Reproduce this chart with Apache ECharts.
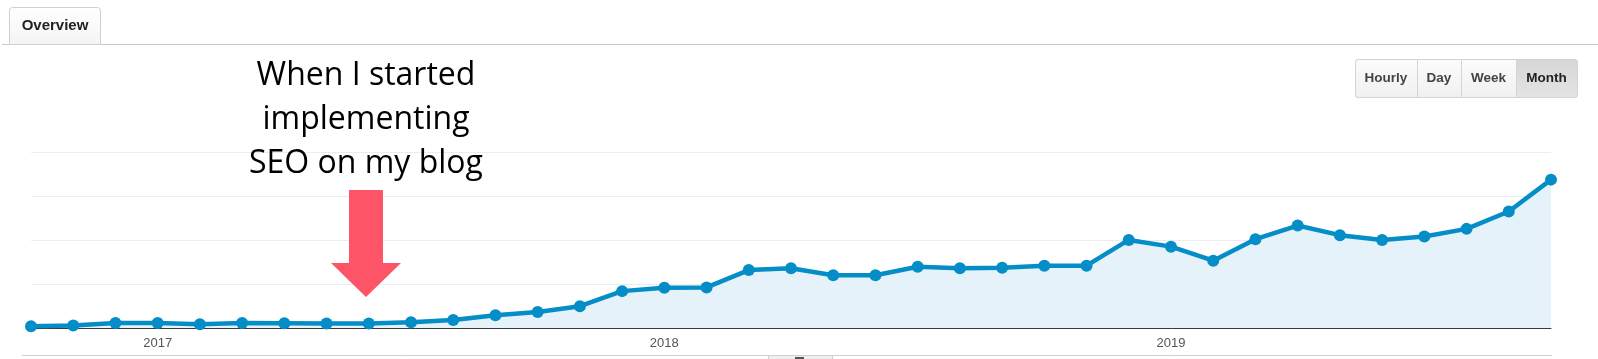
<!DOCTYPE html>
<html>
<head>
<meta charset="utf-8">
<script src="https://cdn.jsdelivr.net/npm/echarts@6/dist/echarts.min.js"></script>
<style>
html,body{margin:0;padding:0;background:#fff;}
#chart{width:1598px;height:359px;}
</style>
</head>
<body>
<div id="chart"></div>
<script>
// Months (category axis), Oct 2016 .. Oct 2019
const months = [
  '2016-10','2016-11','2016-12',
  '2017-01','2017-02','2017-03','2017-04','2017-05','2017-06','2017-07','2017-08','2017-09','2017-10','2017-11','2017-12',
  '2018-01','2018-02','2018-03','2018-04','2018-05','2018-06','2018-07','2018-08','2018-09','2018-10','2018-11','2018-12',
  '2019-01','2019-02','2019-03','2019-04','2019-05','2019-06','2019-07','2019-08','2019-09','2019-10'
];
// Sessions per month (axis units are gridline steps of 1000)
const sessions = [
  39, 55, 114,
  114, 84, 114, 107, 100, 100, 130, 183, 290, 365, 495, 838,
  913, 922, 1317, 1356, 1198, 1198, 1393, 1356, 1370, 1416, 1416, 2002,
  1849, 1530, 2018, 2329, 2110, 2002, 2078, 2253, 2648, 3372
];
// Tick labels shown on the x axis (January of each year)
const tickLabels = ['2017', '2018', '2019'];
const yTicks = [0, 1000, 2000, 3000, 4000];
const buttons = ['Hourly', 'Day', 'Week', 'Month'];
const annotationLines = ['When I started', 'implementing', 'SEO on my blog'];

const chart = echarts.init(document.getElementById('chart'), null, {renderer: 'canvas'});

const btnEdges = [1355, 1417, 1461, 1516, 1577];
const btnGraphics = [];
btnGraphics.push({
  type: 'rect', shape: {x: 1355.5, y: 59.5, width: 1577 - 1355, height: 38, r: 3},
  style: {fill: '#f6f6f6', stroke: '#cfcfcf', lineWidth: 1}, z: 10
});
buttons.forEach((b, i) => {
  const x0 = btnEdges[i], x1 = btnEdges[i + 1];
  const sel = b === 'Month';
  btnGraphics.push({
    type: 'rect',
    shape: {x: x0 + 0.5, y: 59.5, width: x1 - x0, height: 38, r: i === 0 ? [3,0,0,3] : (i === buttons.length - 1 ? [0,3,3,0] : 0)},
    style: {
      fill: sel ? new echarts.graphic.LinearGradient(0, 0, 0, 1, [{offset: 0, color: '#d6d6d6'}, {offset: 1, color: '#e4e4e4'}])
                : new echarts.graphic.LinearGradient(0, 0, 0, 1, [{offset: 0, color: '#fcfcfc'}, {offset: 1, color: '#f0f0f0'}]),
      stroke: '#d4d4d4', lineWidth: 1
    }, z: 11
  });
  btnGraphics.push({
    type: 'text', x: (x0 + x1) / 2, y: 78.5, z: 12,
    style: {text: b, fill: sel ? '#222' : '#444', font: 'bold 13.5px "Liberation Sans", Arial, sans-serif', align: 'center', verticalAlign: 'middle'}
  });
});

const annoGraphics = annotationLines.map((t, i) => ({
  type: 'text', x: 366, y: [76, 120, 164][i], z: 20,
  style: {text: t, fill: '#000', font: '32px "Open Sans", sans-serif', align: 'center', verticalAlign: 'middle'}
}));

chart.setOption({
  animation: false,
  backgroundColor: '#fff',
  grid: {left: 31, right: 47, top: 152, bottom: 31, containLabel: false},
  xAxis: {
    type: 'category',
    data: months,
    boundaryGap: false,
    axisLine: {show: true, lineStyle: {color: '#3a3a3a', width: 1}},
    axisTick: {show: false},
    splitLine: {show: false},
    axisLabel: {
      interval: 0,
      margin: 9,
      color: '#555',
      fontSize: 13,
      fontFamily: '"Liberation Sans", Arial, sans-serif',
      formatter: function (v) {
        const y = v.slice(0, 4);
        return (v.endsWith('-01') && tickLabels.indexOf(y) >= 0) ? y : '';
      }
    }
  },
  yAxis: {
    type: 'value',
    min: yTicks[0],
    max: yTicks[yTicks.length - 1],
    interval: yTicks[1] - yTicks[0],
    axisLabel: {show: false},
    axisLine: {show: false},
    axisTick: {show: false},
    splitLine: {show: true, lineStyle: {color: '#ececec', width: 1}}
  },
  series: [{
    type: 'line',
    data: sessions,
    symbol: 'circle',
    symbolSize: 12,
    showAllSymbol: true,
    lineStyle: {color: '#058dc7', width: 4.5},
    itemStyle: {color: '#058dc7'},
    areaStyle: {color: '#e5f2f9', opacity: 1},
    z: 5
  }],
  graphic: [
    {type: 'line', shape: {x1: 2, y1: 44.5, x2: 1598, y2: 44.5}, style: {stroke: '#c8c8c8', lineWidth: 1}, z: 9},
    {type: 'rect', shape: {x: 9.5, y: 7.5, width: 91, height: 37, r: [3,3,0,0]},
     style: {fill: new echarts.graphic.LinearGradient(0, 0, 0, 1, [{offset: 0, color: '#ffffff'}, {offset: 1, color: '#f4f4f4'}]), stroke: '#d0d0d0', lineWidth: 1}, z: 10},
    {type: 'text', x: 55, y: 26, z: 11,
     style: {text: 'Overview', fill: '#222', font: 'bold 15px "Liberation Sans", Arial, sans-serif', align: 'center', verticalAlign: 'middle'}},
    ...btnGraphics,
    ...annoGraphics,
    {type: 'polygon', z: 20,
     shape: {points: [[349, 190], [383, 190], [383, 263], [401, 263], [366, 297], [331, 263], [349, 263]]},
     style: {fill: '#fd5468'}},
    {type: 'line', shape: {x1: 22, y1: 355.5, x2: 1552, y2: 355.5}, style: {stroke: '#cfcfcf', lineWidth: 1}, z: 9},
    {type: 'rect', shape: {x: 768.5, y: 355.5, width: 64, height: 6}, style: {fill: '#efefef', stroke: '#cfcfcf', lineWidth: 1}, z: 10},
    {type: 'rect', shape: {x: 795, y: 357, width: 9, height: 2}, style: {fill: '#555'}, z: 11}
  ]
});
</script>
</body>
</html>
